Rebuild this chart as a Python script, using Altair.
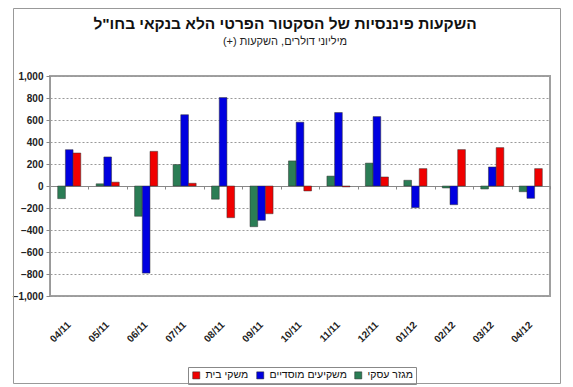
import altair as alt
import pandas as pd

months = ["04/11", "05/11", "06/11", "07/11", "08/11", "09/11", "10/11",
          "11/11", "12/11", "01/12", "02/12", "03/12", "04/12"]
series = ["מגזר עסקי", "משקיעים מוסדיים", "משקי בית"]
business = [-115, 20, -275, 195, -120, -370, 228, 90, 208, 52, -18, -27, -52]
institutional = [330, 264, -792, 648, 804, -312, 580, 668, 631, -197, -170, 173, -112]
households = [300, 35, 315, 25, -288, -252, -45, -8, 82, 158, 331, 349, 158]
colors = ["#2b7d55", "#0000e0", "#f00000"]
y_ticks = [-1000, -800, -600, -400, -200, 0, 200, 400, 600, 800, 1000]

title = 'השקעות פיננסיות של הסקטור הפרטי הלא בנקאי בחו"ל'
subtitle = "מיליוני דולרים, השקעות (+)\u200f"

rows = []
for name, vals in zip(series, [business, institutional, households]):
    for m, v in zip(months, vals):
        rows.append({"month": m, "series": name, "value": v})
df = pd.DataFrame(rows)

W, H = 500, 220
FONT = "Liberation Sans"

bars = alt.Chart(df).mark_bar(strokeWidth=0.5, stroke="#333").encode(
    x=alt.X("month:N", sort=months,
            scale=alt.Scale(paddingInner=0, paddingOuter=0),
            axis=alt.Axis(title=None, labelAngle=-45, labelAlign="right",
                          labelBaseline="middle", labelFontWeight="bold",
                          labelFontSize=10, labelFont=FONT, labelColor="#222",
                          labelPadding=27, ticks=False, domain=False, grid=False)),
    xOffset=alt.XOffset("series:N", sort=series,
                        scale=alt.Scale(domain=series, paddingInner=0, paddingOuter=1)),
    y=alt.Y("value:Q", scale=alt.Scale(domain=[-1000, 1000], nice=False),
            axis=alt.Axis(title=None, values=y_ticks, format=",d", labelOverlap=False,
                          labelFontWeight="bold", labelFontSize=10, labelFont=FONT,
                          labelColor="#222", tickSize=4, tickColor="#888",
                          domainColor="#999", grid=True, gridColor="#999",
                          gridDash=[2, 2], labelPadding=3)),
    color=alt.Color("series:N", scale=alt.Scale(domain=series, range=colors),
                    legend=alt.Legend(title=None, orient="none", legendX=138, legendY=291,
                                      direction="horizontal", values=series[::-1],
                                      symbolType="square", symbolSize=50,
                                      symbolStrokeColor="#222", symbolStrokeWidth=0.5,
                                      labelFontSize=10.5, labelFont=FONT, labelColor="#111",
                                      strokeColor="#888", padding=3, columnPadding=6)),
)

ticks = alt.Chart(df).mark_point(opacity=0).encode(
    x=alt.X("month:N", sort=months,
            axis=alt.Axis(title=None, orient="bottom", offset=-H / 2, labels=False,
                          domain=True, domainColor="#888", ticks=True,
                          tickBand="extent", tickSize=3, tickColor="#888", grid=False)),
)

one = pd.DataFrame({"a": [0]})
frame = alt.Chart(one).mark_rect(
    fill=None, stroke="#999", strokeWidth=1).encode(
    x=alt.value(-36.5), x2=alt.value(W + 10.5),
    y=alt.value(-67.5), y2=alt.value(H + 87.5))

title_txt = alt.Chart(one).mark_text(
    font=FONT, fontSize=15.5, fontWeight="bold", color="#111", align="center",
    baseline="middle").encode(x=alt.value(W / 2 - 15), y=alt.value(-52),
                              text=alt.value(title))
subtitle_txt = alt.Chart(one).mark_text(
    font=FONT, fontSize=11, color="#222", align="center",
    baseline="middle").encode(x=alt.value(W / 2 - 15), y=alt.value(-34),
                              text=alt.value(subtitle))

chart = alt.layer(bars, ticks, frame, title_txt, subtitle_txt).resolve_axis(
    x="independent").properties(
    width=W, height=H,
    autosize=alt.AutoSizeParams(type="none"),
    padding={"left": 42, "top": 68, "right": 13, "bottom": 90},
).configure_view(stroke="#a0a0a0", strokeWidth=2).configure_axisY(labelOverlap=False)

chart.save("out.html", embed_options={"renderer": "svg", "actions": False})
